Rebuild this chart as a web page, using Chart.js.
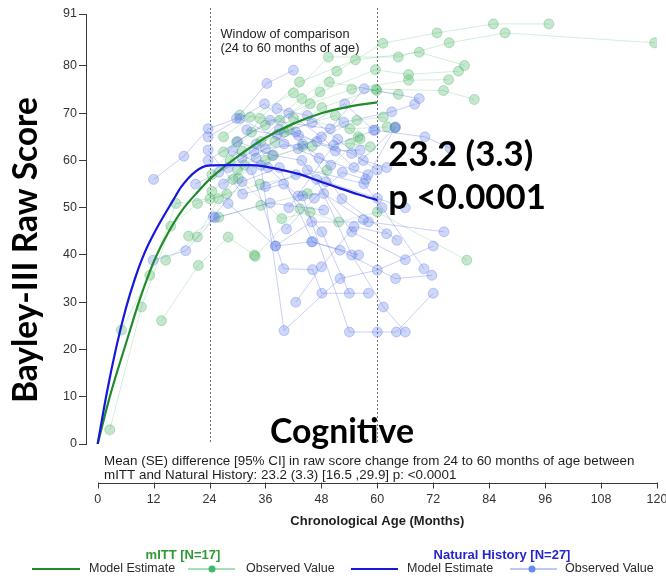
<!DOCTYPE html>
<html>
<head>
<meta charset="utf-8">
<title>Bayley-III Cognitive Raw Score</title>
<script src="https://cdn.jsdelivr.net/npm/chart.js@4.4.1/dist/chart.umd.min.js"></script>
<style>
  html, body { margin: 0; padding: 0; background: #ffffff; }
  #wrap { width: 666px; height: 580px; position: relative; }
</style>
</head>
<body>
<div id="wrap"><canvas id="chart" width="666" height="580"></canvas></div>
<script>
// ---- axis ticks ----
const xTicks = [0, 12, 24, 36, 48, 60, 72, 84, 96, 108, 120];
const yTicks = [0, 10, 20, 30, 40, 50, 60, 70, 80, 91];
const comparisonWindow = [24, 60];

// ---- model estimates (age in months, raw score) ----
const mittModelAge   = [0, 2.6, 6.3, 9, 12, 15, 18, 21.6, 24, 30, 36, 42, 48, 54, 60];
const mittModelScore = [0, 10, 22, 30.5, 38.5, 44.5, 49.3, 53.5, 56, 60.8, 64.8, 67.8, 70, 71.4, 72.3];

const nhModelAge   = [0, 2, 4, 6, 8, 10, 12.6, 16.2, 18, 20.9, 23.7, 28, 32.7, 36, 39.9, 44, 47, 52, 56, 60];
const nhModelScore = [0, 11, 20.5, 28.5, 35, 40.3, 45.5, 51.6, 54.5, 57.6, 58.9, 59, 59, 58.7, 57.9, 56.9, 55.8, 54.1, 52.8, 51.6];

// ---- observed values, one trajectory per participant: [age, score] ----
const mittObserved = [
  [[2.6, 3], [9.4, 29], [15.7, 46.1], [21.4, 50.9], [27.7, 52.9]],
  [[5.1, 24.1], [11.2, 35.7], [16.8, 50.9], [24.1, 51.9], [34.8, 55], [49.2, 57.9]],
  [[13.7, 26.1], [21.6, 37.8], [28, 43.8], [33.6, 40]],
  [[14.6, 38.9], [21.4, 43.8], [25.9, 51.9], [30.2, 56.2], [39.5, 47.7], [45.6, 49.1]],
  [[24.5, 57], [29.8, 63.9], [36, 67.5], [43.8, 73.1], [51.3, 78.9], [61.2, 84.8], [72.8, 87], [84.9, 88.9], [96.8, 88.9]],
  [[27, 65], [32.7, 69.2], [42, 74.3], [49.5, 81.9], [64.5, 81.9], [75.4, 84.9], [87.4, 87], [119.5, 84.9]],
  [[28.4, 60], [34.8, 68.9], [43.3, 76.6], [55.3, 81.3], [69, 82.9], [78.7, 80.1]],
  [[30.5, 69.6], [39.1, 68.5], [47.7, 74.5], [59.6, 79.2], [66.7, 78.2], [77.4, 78.9]],
  [[27, 61.8], [33, 66], [45.6, 72], [54.5, 75.1], [66.7, 77], [75.3, 77.1]],
  [[30, 58], [38, 64], [48.1, 71.2], [59.7, 75.1], [74.2, 74.8], [80.8, 72.9]],
  [[33.8, 39.7], [43.4, 49.8], [51.7, 47], [60, 49.1], [79.2, 38.9]],
  [[31, 62], [40, 66], [49.7, 76.6], [59.9, 74.8], [64.5, 74]],
  [[36, 60], [44, 63], [55.6, 68.5], [61.3, 69.2], [63.8, 67]],
  [[35, 64], [42, 69], [54.1, 66.7], [62.1, 67.1]],
  [[29, 56], [37.5, 61], [46, 63], [54.2, 63.6], [58.5, 62.9]],
  [[24.5, 53.5], [31.5, 59], [41, 66.5], [51, 69.5], [56.3, 64.6]],
  [[19.5, 44], [26, 48], [35, 50.5], [45, 53], [55.9, 65]]
];

const nhObserved = [
  [[12, 56], [18.5, 60.9], [23.7, 66.7], [29.8, 68.9], [36.3, 76.3], [42, 79.1]],
  [[11.9, 38.9], [18.9, 40.9], [25.2, 47.9], [37, 51], [48.5, 49.5]],
  [[23.7, 65], [35.8, 72], [43.1, 65.3], [52.4, 51.9], [64.2, 43.1]],
  [[23.7, 62.2], [31.1, 52.9], [39.9, 55], [48.1, 44.9], [54, 31.9]],
  [[23.7, 60], [37, 68.5], [49.9, 66.7], [57.2, 75.2], [69, 73.1]],
  [[28, 50.9], [38.1, 41.9], [45.9, 47], [58.1, 47], [74.3, 44.9]],
  [[30, 64], [37.7, 61.1], [43.8, 60], [54.5, 44.9], [66, 39]],
  [[30.5, 68.9], [43, 62.5], [52.8, 68.1], [63.1, 70.3], [68, 71.9]],
  [[33, 58], [39.9, 37.1], [46.1, 36.9], [48.1, 31.9], [58.1, 31.9]],
  [[35, 59], [40, 24], [52, 35], [60, 36.8], [72, 41.9]],
  [[38.2, 41.9], [45.9, 42.8], [52, 41], [63.9, 35], [71.7, 35.7]],
  [[44, 52.5], [54, 23.7], [60, 23.7], [64.1, 23.7], [72, 31.9]],
  [[41, 50], [50.6, 63.2], [59.5, 66.4], [70.2, 65], [75.6, 62.6]],
  [[45, 58], [57.1, 55.1], [61, 50], [70, 37.1]],
  [[47, 56], [54.5, 40], [61.3, 29], [66, 23.7]],
  [[24.8, 48.1], [31, 55.5], [39, 58.5], [46.1, 42.8], [56, 40]],
  [[26, 57.5], [33.5, 62], [42.5, 66], [51, 62], [56.3, 62.2]],
  [[27, 55], [34, 60.5], [40, 63.5], [47.5, 60.5], [58, 57]],
  [[32, 66.5], [38.5, 65.5], [46, 68], [53, 72], [59.2, 66.4]],
  [[34, 63.5], [41, 70], [48, 65], [55, 58.5], [63.8, 66.9]],
  [[36, 54.5], [42.5, 57], [49, 55.5], [60, 52], [66, 50]],
  [[38.5, 71], [45, 69.5], [51.5, 64.5], [57, 60], [62, 58.5]],
  [[21, 55], [28, 58.5], [36, 62.5], [44, 63.5], [50, 59]],
  [[42.5, 30], [48, 37.5], [55, 46], [62, 44.5]],
  [[29, 62], [36.5, 58.5], [43, 52.5], [48.5, 53], [57, 47.5]],
  [[31, 60.5], [39, 66.5], [47, 64], [54.5, 61.5], [60, 58]],
  [[40.5, 45.5], [46.5, 52], [52.5, 57.5], [57.5, 56], [63.9, 67.1]]
];

// ---- text ----
const yTitle = 'Bayley-III Raw Score';
const xTitle = 'Chronological Age (Months)';
const panelTitle = 'Cognitive';
const windowNote = ['Window of comparison', '(24 to 60 months of age)'];
const diffNote = [
  'Mean (SE) difference [95% CI] in raw score change from 24 to 60 months of age between',
  'mITT and Natural History: 23.2 (3.3) [16.5 ,29.9] p: <0.0001'
];
const diffCallout = ['23.2 (3.3)', 'p <0.0001'];
const groupNames = ['mITT [N=17]', 'Natural History [N=27]'];
const legendItems = ['Model Estimate', 'Observed Value'];

// ---- colours ----
const GREEN_MODEL = '#1f8c2a';
const BLUE_MODEL = '#1616dc';
const GREEN_FILL = 'rgba(60,175,90,0.30)';
const GREEN_EDGE = 'rgba(60,175,90,0.32)';
const GREEN_LINK = 'rgba(60,175,90,0.22)';
const BLUE_FILL = 'rgba(80,110,230,0.28)';
const BLUE_EDGE = 'rgba(80,110,230,0.30)';
const BLUE_LINK = 'rgba(80,100,225,0.30)';
const AXIS_GREY = '#3a3a3a';
const SANS = "'Liberation Sans', Arial, sans-serif";
const BIG = "Lato, 'Open Sans', sans-serif";

function toPoints(ages, scores) {
  return ages.map((a, i) => ({ x: a, y: scores[i] }));
}
function pairPoints(track) {
  return track.map(p => ({ x: p[0], y: p[1] }));
}

const datasets = [];
datasets.push({
  label: 'mITT Model Estimate',
  data: toPoints(mittModelAge, mittModelScore),
  showLine: true, borderColor: GREEN_MODEL, borderWidth: 2.2,
  pointRadius: 0, cubicInterpolationMode: 'monotone', order: 1
});
datasets.push({
  label: 'Natural History Model Estimate',
  data: toPoints(nhModelAge, nhModelScore),
  showLine: true, borderColor: BLUE_MODEL, borderWidth: 2.2,
  pointRadius: 0, cubicInterpolationMode: 'monotone', order: 0
});
mittObserved.forEach((track, i) => datasets.push({
  label: 'mITT participant ' + (i + 1),
  data: pairPoints(track),
  showLine: true, borderColor: GREEN_LINK, borderWidth: 1,
  pointRadius: 5, pointBackgroundColor: GREEN_FILL, pointBorderColor: GREEN_EDGE,
  pointBorderWidth: 1, tension: 0, order: 3
}));
nhObserved.forEach((track, i) => datasets.push({
  label: 'Natural History participant ' + (i + 1),
  data: pairPoints(track),
  showLine: true, borderColor: BLUE_LINK, borderWidth: 1,
  pointRadius: 5, pointBackgroundColor: BLUE_FILL, pointBorderColor: BLUE_EDGE,
  pointBorderWidth: 1, tension: 0, order: 2
}));

// font size that makes a string span a given width
function fitSize(ctx, text, weight, family, width) {
  ctx.font = weight + ' 100px ' + family;
  return 100 * width / ctx.measureText(text).width;
}

const decorations = {
  id: 'decorations',
  beforeDatasetsDraw(chart) {
    const { ctx, scales: { x, y } } = chart;
    ctx.save();
    ctx.strokeStyle = '#707070';
    ctx.lineWidth = 1;
    ctx.setLineDash([2, 2]);
    comparisonWindow.forEach(v => {
      const px = Math.round(x.getPixelForValue(v)) + 0.5;
      ctx.beginPath();
      ctx.moveTo(px, y.getPixelForValue(91) - 6);
      ctx.lineTo(px, y.getPixelForValue(0));
      ctx.stroke();
    });
    ctx.restore();
  },
  afterDraw(chart) {
    const { ctx, scales: { x, y } } = chart;
    ctx.save();

    // window caption
    ctx.fillStyle = '#222';
    ctx.textAlign = 'left';
    ctx.textBaseline = 'alphabetic';
    const wSize = fitSize(ctx, windowNote[0], 'normal', SANS, 129);
    ctx.font = wSize.toFixed(2) + 'px ' + SANS;
    const wx = x.getPixelForValue(comparisonWindow[0]) + 11;
    ctx.fillText(windowNote[0], wx, 38);
    ctx.fillText(windowNote[1], wx, 52);

    // difference callout
    ctx.fillStyle = '#000';
    const cSize = fitSize(ctx, diffCallout[0], 'bold', BIG, 145);
    ctx.font = 'bold ' + cSize.toFixed(2) + 'px ' + BIG;
    const cx = x.getPixelForValue(comparisonWindow[1]) + 11;
    ctx.fillText(diffCallout[0], cx, 166);
    ctx.fillText(diffCallout[1], cx, 209);

    // y title
    const ySize = fitSize(ctx, yTitle, 'bold', BIG, 306);
    ctx.font = 'bold ' + ySize.toFixed(2) + 'px ' + BIG;
    ctx.save();
    ctx.translate(37, 403);
    ctx.rotate(-Math.PI / 2);
    ctx.fillText(yTitle, 0, 0);
    ctx.restore();

    // panel title
    const pSize = fitSize(ctx, panelTitle, 'bold', BIG, 144);
    ctx.font = 'bold ' + pSize.toFixed(2) + 'px ' + BIG;
    ctx.fillText(panelTitle, 270, 443);

    // difference note
    ctx.fillStyle = '#1e1e1e';
    const nSize = fitSize(ctx, diffNote[0], 'normal', SANS, 531);
    ctx.font = nSize.toFixed(2) + 'px ' + SANS;
    ctx.fillText(diffNote[0], 104, 464.5);
    ctx.fillText(diffNote[1], 104, 479);

    // x axis, set below the note
    const x0 = x.getPixelForValue(xTicks[0]);
    const x1 = x.getPixelForValue(xTicks[xTicks.length - 1]);
    const axisY = 483.5;
    ctx.strokeStyle = AXIS_GREY;
    ctx.lineWidth = 1;
    ctx.beginPath();
    ctx.moveTo(Math.round(x0) + 0.5, axisY);
    ctx.lineTo(Math.round(x1) + 0.5, axisY);
    xTicks.forEach(v => {
      const px = Math.round(x.getPixelForValue(v)) + 0.5;
      ctx.moveTo(px, axisY - 1);
      ctx.lineTo(px, axisY + 5);
    });
    ctx.stroke();
    ctx.fillStyle = '#333';
    ctx.font = '12.5px ' + SANS;
    ctx.textAlign = 'center';
    ctx.textBaseline = 'middle';
    xTicks.forEach(v => ctx.fillText(String(v), x.getPixelForValue(v), 500));
    ctx.font = 'bold 13px ' + SANS;
    ctx.fillStyle = '#1e1e1e';
    ctx.fillText(xTitle, (x0 + x1) / 2, 521);

    // legend
    ctx.font = 'bold 13px ' + SANS;
    ctx.fillStyle = '#2e9a36';
    ctx.fillText(groupNames[0], 183, 555);
    ctx.fillStyle = '#2424d0';
    ctx.fillText(groupNames[1], 502, 555);

    const rowY = 569;
    const drawLine = (a, b, color, w) => {
      ctx.strokeStyle = color; ctx.lineWidth = w;
      ctx.beginPath(); ctx.moveTo(a, rowY); ctx.lineTo(b, rowY); ctx.stroke();
    };
    const drawDot = (cx0, color) => {
      ctx.fillStyle = color;
      ctx.beginPath(); ctx.arc(cx0, rowY, 3.5, 0, Math.PI * 2); ctx.fill();
    };
    drawLine(32, 80, GREEN_MODEL, 2);
    drawLine(188, 235, '#8ad2a2', 1.5);
    drawDot(212, '#3dba6e');
    drawLine(351, 398, BLUE_MODEL, 2);
    drawLine(510, 557, '#a3b8f2', 1.5);
    drawDot(532, '#648cec');

    ctx.font = '12.5px ' + SANS;
    ctx.fillStyle = '#2a2a2a';
    ctx.textAlign = 'left';
    ctx.fillText(legendItems[0], 89, rowY);
    ctx.fillText(legendItems[1], 246, rowY);
    ctx.fillText(legendItems[0], 407, rowY);
    ctx.fillText(legendItems[1], 565, rowY);

    ctx.restore();
  }
};

new Chart(document.getElementById('chart'), {
  type: 'scatter',
  data: { datasets },
  options: {
    responsive: false,
    animation: false,
    devicePixelRatio: 1,
    layout: { padding: { top: 14, right: 9, bottom: 136, left: 0 } },
    plugins: { legend: { display: false }, tooltip: { enabled: false } },
    scales: {
      x: { type: 'linear', display: false, min: -2.5, max: 120 },
      y: {
        type: 'linear', min: 0, max: 91,
        afterBuildTicks: s => { s.ticks = yTicks.map(v => ({ value: v })); },
        afterFit: s => { s.width = 86; },
        border: { display: true, color: AXIS_GREY, width: 1 },
        grid: { display: true, drawOnChartArea: false, drawTicks: true, tickLength: 7, color: AXIS_GREY },
        ticks: { padding: 2, color: '#333', font: { family: SANS, size: 12.5 } }
      }
    }
  },
  plugins: [decorations]
});
</script>
</body>
</html>
